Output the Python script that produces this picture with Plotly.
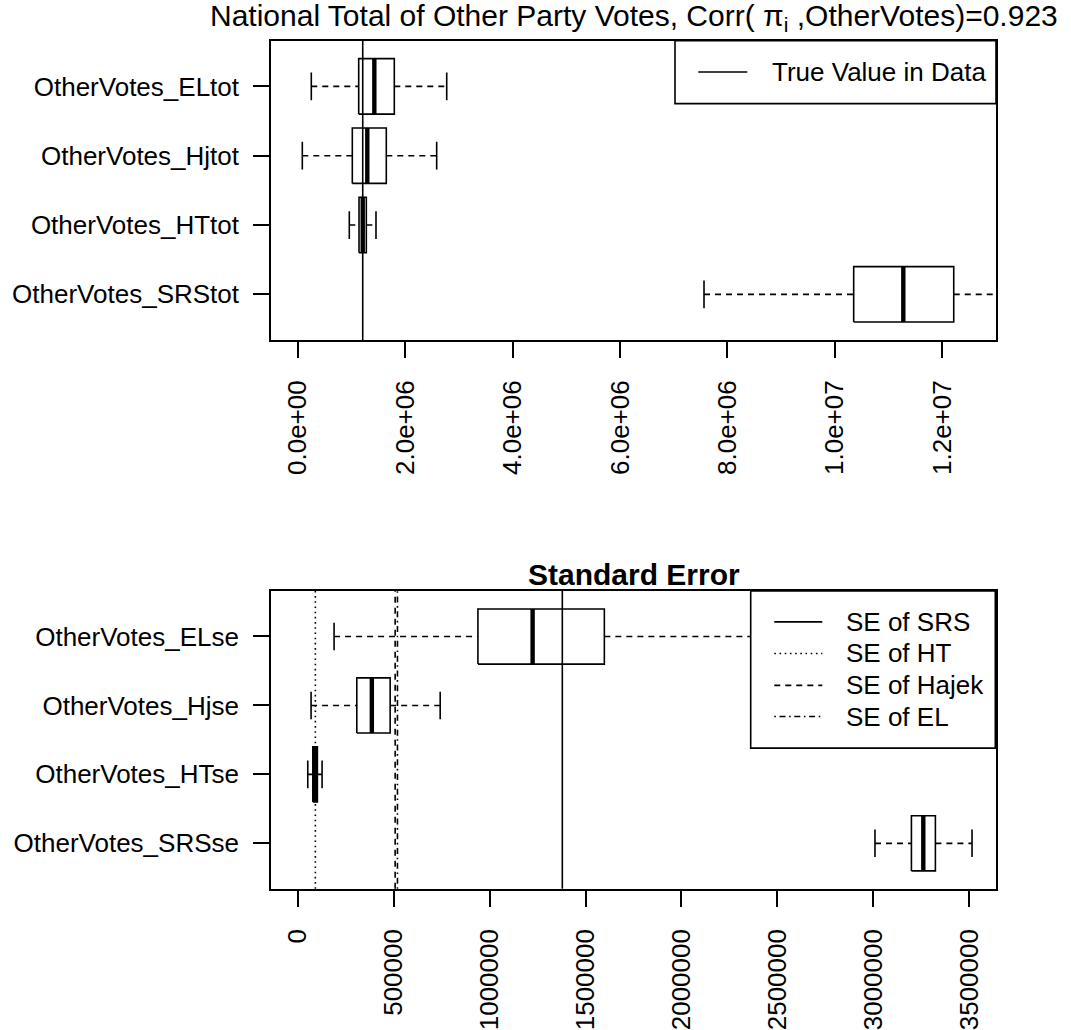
import plotly.graph_objects as go

# ---- National totals: five-number summaries (whisker ends, quartiles, median) ----
tot_labels = ["OtherVotes_SRStot", "OtherVotes_HTtot", "OtherVotes_Hjtot", "OtherVotes_ELtot"]
tot_lower = [7563000, 958000, 83000, 250500]
tot_q1 = [10350000, 1139000, 1014000, 1133000]
tot_median = [11274000, 1208000, 1293000, 1424000]
tot_q3 = [12213000, 1275000, 1647000, 1796000]
tot_upper = [14200000, 1455000, 2585000, 2772000]
true_total = 1208000
tot_range = [-500000, 13000000]
tot_ticks = [0, 2e6, 4e6, 6e6, 8e6, 1e7, 1.2e7]
tot_ticktext = ["0.0e+00", "2.0e+06", "4.0e+06", "6.0e+06", "8.0e+06", "1.0e+07", "1.2e+07"]

# ---- Standard errors: five-number summaries ----
se_labels = ["OtherVotes_SRSse", "OtherVotes_HTse", "OtherVotes_Hjse", "OtherVotes_ELse"]
se_lower = [3009000, 51700, 68900, 188900]
se_q1 = [3199000, 77800, 307400, 938900]
se_median = [3261000, 89800, 385700, 1224000]
se_q3 = [3324000, 101800, 481200, 1598000]
se_upper = [3515000, 126300, 742100, 2650000]
se_range = [-140000, 3640000]
se_ticks = [0, 500000, 1000000, 1500000, 2000000, 2500000, 3000000, 3500000]
se_ticktext = ["0", "500000", "1000000", "1500000", "2000000", "2500000", "3000000", "3500000"]

# reference SE lines
se_ref_names = ["SE of SRS", "SE of HT", "SE of Hajek", "SE of EL"]
se_ref_values = [1378900, 91300, 507300, 519300]

FONT = "Liberation Sans, Arial, Helvetica, sans-serif"
W, H = 1071, 1030
LW = 1.6
DASH = "6px,5px"
DOT = "1.6px,3.6px"
DOTDASH = "1.6px,3.6px,6px,3.6px"
ref_dashes = ["solid", DOT, DASH, DOTDASH]

# plot-region geometry (pixels)
X0, X1 = 271, 996
TOP_Y = (40.8, 341.4)
BOT_Y = (593.3, 892.3)


def px(x):
    return x / W


def py(y):
    return 1 - y / H


fig = go.Figure()


def add_boxes(xa, ya, lower, q1, med, q3, upper):
    half, cap = 0.4, 0.2
    bx, by, wx, wy, cx, cy, mx, my = [], [], [], [], [], [], [], []
    for i in range(len(med)):
        c = i + 1
        bx += [q1[i], q3[i], q3[i], q1[i], q1[i], None]
        by += [c - half, c - half, c + half, c + half, c - half, None]
        wx += [lower[i], q1[i], None, q3[i], upper[i], None]
        wy += [c, c, None, c, c, None]
        cx += [lower[i], lower[i], None, upper[i], upper[i], None]
        cy += [c - cap, c + cap, None, c - cap, c + cap, None]
        mx += [med[i], med[i], None]
        my += [c - half, c + half, None]
    common = dict(xaxis=xa, yaxis=ya, mode="lines", showlegend=False, hoverinfo="skip")
    fig.add_trace(go.Scatter(x=wx, y=wy, line=dict(color="black", width=LW, dash=DASH), **common))
    fig.add_trace(go.Scatter(x=cx, y=cy, line=dict(color="black", width=LW), **common))
    fig.add_trace(go.Scatter(x=bx, y=by, line=dict(color="black", width=LW), **common))
    fig.add_trace(go.Scatter(x=mx, y=my, line=dict(color="black", width=4.4), **common))


add_boxes("x", "y", tot_lower, tot_q1, tot_median, tot_q3, tot_upper)
add_boxes("x2", "y2", se_lower, se_q1, se_median, se_q3, se_upper)

shapes = []
# true value line (top)
shapes.append(dict(type="line", xref="x", yref="y domain", x0=true_total, x1=true_total,
                   y0=0, y1=1, line=dict(color="black", width=LW)))
# SE reference lines (bottom)
for v, d in zip(se_ref_values, ref_dashes):
    shapes.append(dict(type="line", xref="x2", yref="y2 domain", x0=v, x1=v, y0=0, y1=1,
                       line=dict(color="black", width=LW, dash=d)))

annotations = []

# legend, top panel
shapes.append(dict(type="rect", xref="paper", yref="paper", x0=px(675), x1=px(996),
                   y0=py(104), y1=py(40.8), fillcolor="white",
                   line=dict(color="black", width=LW), layer="above"))
shapes.append(dict(type="line", xref="paper", yref="paper", x0=px(698.3), x1=px(747.3),
                   y0=py(72.3), y1=py(72.3), line=dict(color="black", width=LW)))
annotations.append(dict(xref="paper", yref="paper", x=px(770), y=py(72.3), text="True Value in Data",
                        showarrow=False, xanchor="left", yanchor="middle",
                        font=dict(family=FONT, size=26, color="black")))

# legend, bottom panel
shapes.append(dict(type="rect", xref="paper", yref="paper", x0=px(750.7), x1=px(995.3),
                   y0=py(751), y1=py(593.3), fillcolor="white",
                   line=dict(color="black", width=LW), layer="above"))
leg_rows = [624.3, 656, 688, 719.3]
for name, d, yy in zip(se_ref_names, ref_dashes, leg_rows):
    shapes.append(dict(type="line", xref="paper", yref="paper", x0=px(774.3), x1=px(822.3),
                       y0=py(yy), y1=py(yy), line=dict(color="black", width=LW, dash=d)))
    annotations.append(dict(xref="paper", yref="paper", x=px(844), y=py(yy), text=name,
                            showarrow=False, xanchor="left", yanchor="middle",
                            font=dict(family=FONT, size=26, color="black")))

# titles
annotations.append(dict(xref="paper", yref="paper", x=px((X0 + X1) / 2), y=py(38),
                        text="National Total of Other Party Votes, Corr( \u03c0<sub>i</sub> ,OtherVotes)=0.923",
                        showarrow=False, xanchor="center", yanchor="bottom",
                        font=dict(family=FONT, size=30, color="black")))
annotations.append(dict(xref="paper", yref="paper", x=px((X0 + X1) / 2), y=py(595),
                        text="<b>Standard Error</b>",
                        showarrow=False, xanchor="center", yanchor="bottom",
                        font=dict(family=FONT, size=30, color="black")))

axis_common = dict(showline=True, mirror=True, linecolor="black", linewidth=LW,
                   ticks="outside", ticklen=16, tickwidth=LW, tickcolor="black",
                   showgrid=False, zeroline=False,
                   tickfont=dict(family=FONT, size=26, color="black"))

fig.update_layout(
    width=W, height=H, autosize=False,
    margin=dict(l=0, r=0, t=0, b=0),
    paper_bgcolor="white", plot_bgcolor="white",
    showlegend=False,
    shapes=shapes, annotations=annotations,
    xaxis=dict(domain=[px(X0), px(X1)], range=tot_range, tickvals=tot_ticks,
               ticktext=tot_ticktext, tickangle=-90, anchor="y", ticklabelstandoff=12,
               **axis_common),
    yaxis=dict(domain=[py(TOP_Y[1]), py(TOP_Y[0])], range=[0.34, 4.66],
               tickvals=[1, 2, 3, 4], ticktext=tot_labels, anchor="x", ticklabelstandoff=9,
               **axis_common),
    xaxis2=dict(domain=[px(X0), px(X1)], range=se_range, tickvals=se_ticks,
                ticktext=se_ticktext, tickangle=-90, anchor="y2", ticklabelstandoff=12,
                **axis_common),
    yaxis2=dict(domain=[py(BOT_Y[1]), py(BOT_Y[0])], range=[0.34, 4.66],
                tickvals=[1, 2, 3, 4], ticktext=se_labels, anchor="x2", ticklabelstandoff=9,
                **axis_common),
)

fig.write_html("out.html")
